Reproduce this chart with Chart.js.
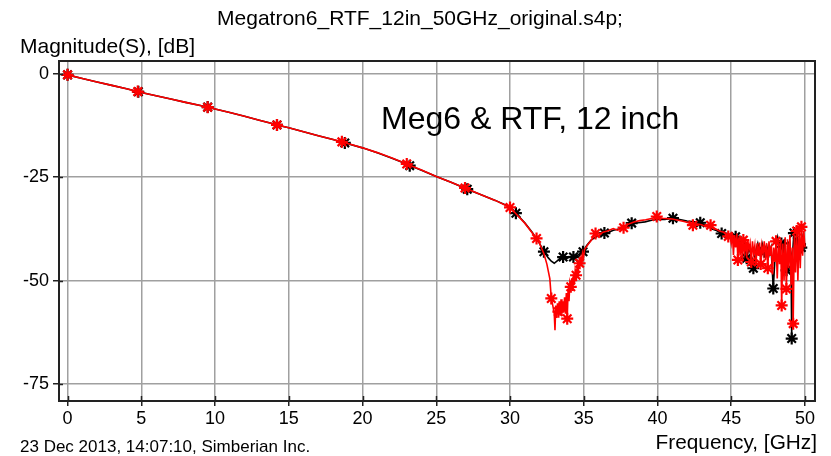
<!DOCTYPE html>
<html><head><meta charset="utf-8">
<script src="https://cdn.jsdelivr.net/npm/chart.js@4.4.1/dist/chart.umd.min.js"></script>
<style>html,body{margin:0;padding:0;background:#fff;overflow:hidden}#wrap{position:relative;width:831px;height:456px}</style>
</head><body><div id="wrap"><canvas id="c" width="831" height="456"></canvas></div>
<script>
const chartTitle = "Megatron6_RTF_12in_50GHz_original.s4p;";
const yAxisTitle = "Magnitude(S), [dB]";
const xAxisTitle = "Frequency, [GHz]";
const footerText = "23 Dec 2013, 14:07:10, Simberian Inc.";
const annotationText = "Meg6 & RTF, 12 inch";
const xTicks = [0, 5, 10, 15, 20, 25, 30, 35, 40, 45, 50];
const yTicks = [0, -25, -50, -75];

// Black trace: [frequency GHz, magnitude dB]
const blackTrace = [[0,-0.25],[1,-1.15],[2,-2.0],[3,-2.8],[4,-3.6],[4.8,-4.35],[5,-4.5],[6,-5.3],[7,-6.1],[8,-6.9],[9,-7.65],[9.5,-8.05],[10,-8.5],[11,-9.35],[12,-10.25],[13,-11.2],[14,-12.15],[14.2,-12.35],[15,-13.05],[16,-14.0],[17,-14.95],[18,-15.9],[18.8,-16.7],[19,-16.9],[20,-17.9],[21,-19.1],[22,-20.4],[23,-21.8],[23.2,-22.2],[24,-23.3],[25,-24.8],[26,-26.2],[27,-27.7],[27.1,-27.9],[28,-29.2],[29,-30.6],[30,-32.2],[30.4,-33.7],[31,-36.0],[31.5,-38.3],[32,-41.0],[32.3,-43.0],[32.6,-44.5],[32.8,-45.3],[33.0,-45.8],[33.2,-45.2],[33.4,-44.6],[33.6,-44.3],[33.8,-44.8],[34.0,-44.2],[34.3,-44.3],[34.6,-43.8],[34.95,-43.0],[35.2,-41.5],[35.5,-40.2],[35.8,-39.5],[36.1,-39.0],[36.4,-38.5],[36.7,-38.3],[37.0,-37.8],[37.4,-37.5],[37.8,-36.8],[38.25,-36.1],[38.7,-36.0],[39.15,-35.8],[39.6,-35.4],[40.0,-35.2],[40.5,-35.2],[41.05,-34.9],[41.5,-35.2],[42.0,-35.6],[42.5,-35.8],[42.9,-36.0],[43.3,-36.6],[43.7,-37.5],[44.0,-37.9],[44.35,-38.6],[44.7,-38.9],[45.0,-39.0],[45.15,-40.2],[45.3,-39.4],[45.45,-41.5],[45.6,-40.0],[45.75,-42.5],[45.9,-41.0],[46.05,-44.6],[46.2,-42.0],[46.35,-44.0],[46.5,-47.0],[46.65,-43.0],[46.8,-41.0],[46.95,-43.5],[47.1,-41.0],[47.25,-43.0],[47.4,-41.5],[47.55,-44.0],[47.7,-42.0],[47.85,-51.9],[48.0,-42.5],[48.15,-39.5],[48.3,-42.0],[48.4,-41.0],[48.5,-44.0],[48.6,-40.0],[48.75,-47.5],[48.85,-41.0],[48.95,-40.5],[49.05,-43.5],[49.1,-64.0],[49.15,-44.0],[49.25,-38.5],[49.35,-41.0],[49.45,-39.0],[49.55,-42.5],[49.65,-40.0],[49.75,-42.0],[49.85,-39.5],[49.95,-41.5],[50.0,-41.0]];
const blackMarkerGHz = [0,4.8,9.5,14.2,18.8,23.2,27.1,30.4,32.3,33.6,34.3,34.95,36.4,38.25,41.05,42.9,44.35,45.3,46.05,46.5,47.25,47.85,48.4,48.75,49.1,49.25,49.75];

// Red trace: [frequency GHz, magnitude dB]
const redTrace = [[0,-0.25],[1,-1.15],[2,-2.0],[3,-2.8],[4,-3.6],[4.76,-4.3],[5,-4.5],[6,-5.3],[7,-6.1],[8,-6.9],[9,-7.65],[9.5,-8.07],[10,-8.5],[11,-9.35],[12,-10.25],[13,-11.2],[14,-12.15],[14.2,-12.35],[15,-13.05],[16,-14.0],[17,-14.95],[18,-15.9],[18.6,-16.45],[19,-16.85],[20,-17.9],[21,-19.05],[22,-20.35],[23,-21.8],[24,-23.25],[25,-24.8],[26,-26.2],[26.95,-27.6],[28,-29.2],[29,-30.6],[30,-32.3],[30.5,-34.2],[31,-36.1],[31.5,-38.4],[31.8,-39.8],[32.0,-41.0],[32.3,-43.5],[32.5,-46.0],[32.7,-49.5],[32.8,-54.3],[32.9,-56.0],[33.0,-58.0],[33.05,-62.0],[33.1,-56.0],[33.16,-59.0],[33.22,-55.5],[33.28,-57.5],[33.34,-55.0],[33.4,-58.5],[33.46,-54.5],[33.52,-58.0],[33.58,-55.0],[33.64,-57.5],[33.7,-54.0],[33.76,-58.0],[33.82,-53.0],[33.88,-59.2],[33.94,-52.0],[34.0,-55.0],[34.06,-50.5],[34.12,-51.5],[34.18,-49.5],[34.24,-52.5],[34.3,-48.5],[34.36,-51.0],[34.42,-47.5],[34.48,-48.7],[34.54,-46.5],[34.6,-49.0],[34.66,-45.5],[34.72,-45.8],[34.8,-44.5],[34.86,-46.5],[34.92,-43.5],[34.98,-44.5],[35.05,-42.5],[35.3,-41.2],[35.5,-40.3],[35.8,-38.6],[36.0,-39.2],[36.3,-38.3],[36.6,-38.0],[37.0,-37.4],[37.3,-37.8],[37.7,-37.2],[38.0,-36.4],[38.4,-35.8],[38.8,-35.5],[39.2,-35.3],[39.6,-35.0],[39.95,-34.5],[40.3,-34.9],[40.7,-35.0],[41.0,-35.1],[41.4,-35.4],[41.8,-35.7],[42.1,-36.0],[42.4,-36.6],[42.7,-36.3],[43.0,-36.5],[43.3,-37.0],[43.6,-36.6],[43.9,-37.4],[44.2,-38.0],[44.5,-38.3],[44.8,-39.3],[44.9,-38.8],[45.0,-41.0],[45.08,-38.5],[45.15,-43.8],[45.22,-39.0],[45.3,-42.0],[45.38,-38.6],[45.45,-45.0],[45.52,-39.5],[45.6,-44.0],[45.68,-39.8],[45.75,-45.5],[45.82,-40.2],[45.9,-43.0],[45.98,-40.5],[46.05,-44.5],[46.12,-40.0],[46.2,-42.5],[46.28,-41.0],[46.36,-45.5],[46.44,-40.5],[46.52,-43.5],[46.6,-41.5],[46.68,-46.0],[46.76,-41.0],[46.84,-44.0],[46.92,-40.8],[47.0,-46.0],[47.08,-41.5],[47.16,-43.5],[47.24,-40.5],[47.32,-45.0],[47.4,-41.0],[47.48,-47.0],[47.56,-40.5],[47.64,-44.0],[47.72,-41.5],[47.8,-48.5],[47.88,-42.0],[47.96,-45.5],[48.04,-40.5],[48.12,-49.5],[48.2,-41.0],[48.28,-46.0],[48.36,-40.0],[48.42,-56.0],[48.5,-41.0],[48.58,-50.0],[48.66,-39.5],[48.74,-52.0],[48.82,-40.0],[48.9,-47.0],[48.98,-39.0],[49.06,-51.0],[49.14,-42.0],[49.2,-60.4],[49.28,-39.0],[49.36,-48.0],[49.44,-38.0],[49.52,-50.0],[49.6,-37.5],[49.68,-47.0],[49.76,-37.0],[49.84,-44.0],[49.92,-38.0],[50.0,-42.0]];
const redMarkerGHz = [0,4.76,9.5,14.2,18.6,23,26.95,30.0,31.8,32.8,33.28,33.88,34.12,34.48,34.72,35.8,37.7,39.95,42.4,43.6,44.8,45.45,45.82,46.36,47.0,47.48,48.04,48.42,48.74,49.2,49.44,49.76];

const FONT = "'Liberation Sans', Arial, sans-serif";

function toPoints(trace){ return trace.map(p => ({ x: p[0], y: p[1] })); }
function markerRadii(trace, marks, r){ return trace.map(p => marks.some(m => Math.abs(m - p[0]) < 1e-6) ? r : 0); }

const framePlugin = {
  id: 'framePlugin',
  afterDraw(chart){
    const ctx = chart.ctx, a = chart.chartArea;
    const xs = chart.scales.x, ys = chart.scales.y;
    ctx.save();
    ctx.strokeStyle = '#222'; ctx.lineWidth = 2;
    ctx.strokeRect(a.left, a.top, a.right - a.left, a.bottom - a.top);
    ctx.lineWidth = 1.5;
    ctx.beginPath();
    xTicks.forEach(v => { const px = Math.round(xs.getPixelForValue(v)) + 0.5; ctx.moveTo(px, a.bottom - 5); ctx.lineTo(px, a.bottom); });
    yTicks.forEach(v => { const py = Math.round(ys.getPixelForValue(v)) + 0.5; ctx.moveTo(a.left, py); ctx.lineTo(a.left + 4, py); });
    ctx.stroke();
    ctx.fillStyle = '#000';
    ctx.textBaseline = 'alphabetic';
    ctx.font = '21px ' + FONT; ctx.textAlign = 'center';
    ctx.fillText(chartTitle, 420, 25);
    ctx.font = '21px ' + FONT; ctx.textAlign = 'left';
    ctx.fillText(yAxisTitle, 20, 53);
    ctx.font = '17px ' + FONT;
    ctx.fillText(footerText, 20, 452);
    ctx.font = '20.8px ' + FONT; ctx.textAlign = 'right';
    ctx.fillText(xAxisTitle, 817, 449);
    ctx.font = '32px ' + FONT; ctx.textAlign = 'left';
    ctx.fillText(annotationText, 381, 129);
    ctx.restore();
  }
};

new Chart(document.getElementById('c'), {
  type: 'line',
  data: {
    datasets: [
      { label: 'Red trace', data: toPoints(redTrace), borderColor: '#ff0000', backgroundColor: '#ff0000',
        borderWidth: 1.6, pointStyle: 'star', pointRadius: markerRadii(redTrace, redMarkerGHz, 6),
        pointBorderColor: '#ff0000', pointBorderWidth: 2.2, pointHoverRadius: 0, tension: 0, fill: false },
      { label: 'Black trace', data: toPoints(blackTrace), borderColor: '#000000', backgroundColor: '#000000',
        borderWidth: 1.6, pointStyle: 'star', pointRadius: markerRadii(blackTrace, blackMarkerGHz, 6),
        pointBorderColor: '#000000', pointBorderWidth: 2.2, pointHoverRadius: 0, tension: 0, fill: false }
    ]
  },
  options: {
    responsive: false, animation: false, devicePixelRatio: 1,
    layout: { padding: { top: 61, right: 16, left: 0, bottom: 0 } },
    plugins: { legend: { display: false }, tooltip: { enabled: false }, title: { display: false } },
    events: [],
    scales: {
      x: {
        type: 'linear', min: -0.58, max: 50.68,
        afterBuildTicks: s => { s.ticks = xTicks.map(v => ({ value: v })); },
        afterFit: s => { s.height = 55; },
        grid: { color: '#a0a0a0', lineWidth: 1.5, tickLength: 5, tickColor: '#222', tickWidth: 1.5 },
        border: { display: true, color: '#222', width: 2 },
        ticks: { font: { family: FONT, size: 18 }, color: '#000', padding: 2, maxRotation: 0, autoSkip: false }
      },
      y: {
        type: 'linear', min: -79.1, max: 3.1,
        afterBuildTicks: s => { s.ticks = yTicks.map(v => ({ value: v })); },
        afterFit: s => { s.width = 59; },
        grid: { color: '#a0a0a0', lineWidth: 1.5, tickLength: 6, tickColor: '#222', tickWidth: 1.5 },
        border: { display: true, color: '#222', width: 2 },
        ticks: { font: { family: FONT, size: 18 }, color: '#000', padding: 4, autoSkip: false }
      }
    }
  },
  plugins: [framePlugin]
});
</script></body></html>
